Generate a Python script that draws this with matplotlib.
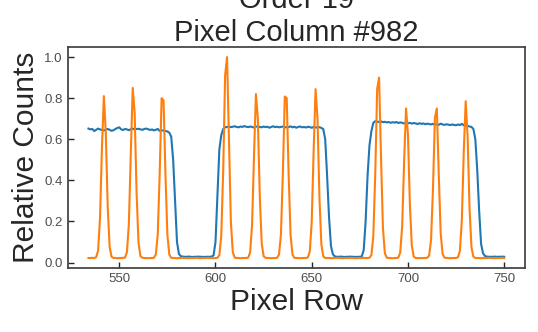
import matplotlib
matplotlib.use("Agg")
import matplotlib.pyplot as plt

# pixel rows 534..750
pixel_row = list(range(534, 751))

# flat field (blue)
flat = [
    0.652, 0.648, 0.650, 0.640, 0.646, 0.652, 0.648, 0.645, 0.643, 0.647,  # 534
    0.650, 0.646, 0.641, 0.644, 0.650, 0.655, 0.658, 0.648, 0.645, 0.650,  # 544
    0.648, 0.644, 0.649, 0.652, 0.647, 0.650, 0.651, 0.648, 0.646, 0.650,  # 554
    0.652, 0.649, 0.645, 0.648, 0.643, 0.646, 0.650, 0.641, 0.644, 0.642,  # 564
    0.640, 0.638, 0.632, 0.612, 0.500, 0.300, 0.100, 0.042, 0.031, 0.029,  # 574
    0.028, 0.028, 0.029, 0.028, 0.027, 0.028, 0.028, 0.029, 0.028, 0.028,  # 584
    0.027, 0.028, 0.028, 0.028, 0.029, 0.035, 0.100, 0.330, 0.550, 0.620,  # 594
    0.650, 0.658, 0.660, 0.662, 0.659, 0.661, 0.663, 0.660, 0.658, 0.662,  # 604
    0.660, 0.664, 0.661, 0.659, 0.662, 0.660, 0.657, 0.661, 0.663, 0.660,  # 614
    0.658, 0.662, 0.659, 0.661, 0.656, 0.660, 0.663, 0.659, 0.661, 0.658,  # 624
    0.660, 0.662, 0.657, 0.660, 0.659, 0.663, 0.658, 0.661, 0.656, 0.660,  # 634
    0.662, 0.658, 0.660, 0.657, 0.661, 0.659, 0.656, 0.660, 0.658, 0.657,  # 644
    0.659, 0.655, 0.650, 0.600, 0.420, 0.220, 0.080, 0.040, 0.030, 0.028,  # 654
    0.028, 0.029, 0.028, 0.027, 0.028, 0.028, 0.029, 0.028, 0.028, 0.027,  # 664
    0.028, 0.028, 0.030, 0.060, 0.200, 0.420, 0.570, 0.640, 0.680, 0.688,  # 674
    0.686, 0.684, 0.687, 0.683, 0.685, 0.682, 0.684, 0.680, 0.683, 0.681,  # 684
    0.684, 0.679, 0.682, 0.680, 0.677, 0.681, 0.678, 0.680, 0.676, 0.679,  # 694
    0.677, 0.674, 0.678, 0.675, 0.677, 0.673, 0.676, 0.674, 0.672, 0.675,  # 704
    0.671, 0.673, 0.670, 0.676, 0.672, 0.670, 0.673, 0.671, 0.669, 0.672,  # 714
    0.670, 0.668, 0.672, 0.669, 0.675, 0.668, 0.667, 0.665, 0.662, 0.660,  # 724
    0.650, 0.600, 0.450, 0.250, 0.090, 0.045, 0.032, 0.029, 0.028, 0.028,  # 734
    0.028, 0.029, 0.028, 0.028, 0.028, 0.029, 0.028,                       # 744
]

# arc lamp (orange)
arc = [
    0.022, 0.022, 0.023, 0.022, 0.026, 0.058, 0.215, 0.558, 0.810, 0.632,  # 534
    0.271, 0.076, 0.028, 0.022, 0.022, 0.021, 0.022, 0.022, 0.023, 0.024,  # 544
    0.051, 0.189, 0.534, 0.850, 0.728, 0.339, 0.097, 0.031, 0.023, 0.022,  # 554
    0.022, 0.021, 0.022, 0.022, 0.023, 0.039, 0.136, 0.433, 0.800, 0.790,  # 564
    0.430, 0.136, 0.039, 0.023, 0.022, 0.022, 0.021, 0.022, 0.022, 0.023,  # 574
    0.022, 0.022, 0.021, 0.022, 0.022, 0.022, 0.023, 0.022, 0.021, 0.022,  # 584
    0.022, 0.022, 0.023, 0.022, 0.022, 0.021, 0.022, 0.023, 0.036, 0.130,  # 594
    0.447, 0.911, 1.000, 0.589, 0.196, 0.050, 0.024, 0.022, 0.022, 0.021,  # 604
    0.022, 0.022, 0.022, 0.024, 0.050, 0.183, 0.515, 0.820, 0.702, 0.327,  # 614
    0.094, 0.031, 0.023, 0.022, 0.022, 0.021, 0.022, 0.022, 0.023, 0.039,  # 624
    0.136, 0.435, 0.808, 0.800, 0.432, 0.135, 0.039, 0.023, 0.022, 0.022,  # 634
    0.021, 0.022, 0.022, 0.022, 0.025, 0.054, 0.199, 0.548, 0.844, 0.701,  # 644
    0.317, 0.089, 0.030, 0.022, 0.022, 0.022, 0.021, 0.022, 0.022, 0.023,  # 654
    0.022, 0.022, 0.021, 0.022, 0.022, 0.022, 0.023, 0.022, 0.022, 0.021,  # 664
    0.022, 0.022, 0.022, 0.023, 0.022, 0.022, 0.023, 0.037, 0.128, 0.429,  # 674
    0.845, 0.900, 0.515, 0.168, 0.045, 0.024, 0.022, 0.022, 0.021, 0.022,  # 684
    0.022, 0.024, 0.050, 0.178, 0.488, 0.750, 0.623, 0.283, 0.082, 0.029,  # 694
    0.022, 0.022, 0.021, 0.022, 0.022, 0.022, 0.023, 0.034, 0.110, 0.360,  # 704
    0.705, 0.750, 0.431, 0.143, 0.041, 0.024, 0.022, 0.022, 0.021, 0.022,  # 714
    0.022, 0.022, 0.026, 0.057, 0.209, 0.541, 0.785, 0.613, 0.263, 0.074,  # 724
    0.028, 0.022, 0.022, 0.022, 0.021, 0.022, 0.022, 0.022, 0.023, 0.022,  # 734
    0.022, 0.021, 0.022, 0.022, 0.022, 0.023, 0.022,                       # 744
]

order = 19
column = 982

plt.rcParams["font.family"] = ["Liberation Sans", "DejaVu Sans"]
plt.rcParams["text.color"] = "0.15"
plt.rcParams["axes.labelcolor"] = "0.15"

fig = plt.figure(figsize=(5.38, 3.32), dpi=100)
ax = fig.add_axes([0.1258, 0.1919, 0.8500, 0.6665])

ax.plot(pixel_row, flat, color="#1f77b4", lw=1.5)
ax.plot(pixel_row, arc, color="#ff7f0e", lw=1.5)

ax.set_title(f"Order {order}\nPixel Column #{column}", fontsize=21, pad=4.5)
ax.set_xlabel("Pixel Row", fontsize=21.5, labelpad=2)
ax.set_ylabel("Relative Counts", fontsize=21.5, labelpad=3)

ax.set_xticks([550, 600, 650, 700, 750])
ax.set_yticks([0.0, 0.2, 0.4, 0.6, 0.8, 1.0])
ax.tick_params(direction="in", length=4.5, width=1, colors="0.15",
               labelsize=9.5, labelcolor="0.3", pad=3.5)
for s in ax.spines.values():
    s.set_color("0.25")
    s.set_linewidth(1.25)

fig.savefig("out.png", dpi=100)
